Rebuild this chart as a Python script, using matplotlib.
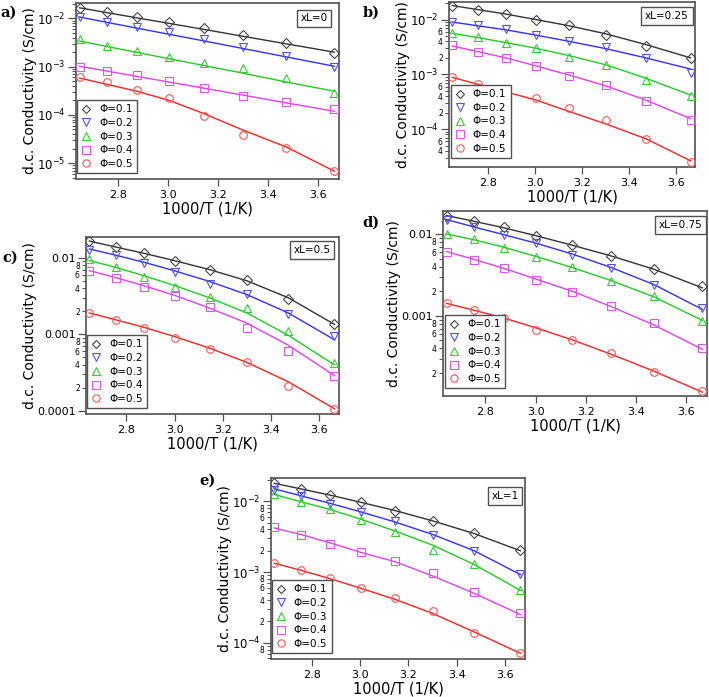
import matplotlib
matplotlib.use("Agg")
import matplotlib.pyplot as plt
from matplotlib.lines import Line2D
from matplotlib.ticker import FixedLocator, FixedFormatter
import numpy as np

plt.rcParams['font.family'] = ['DejaVu Sans']

# 1000/T values (1/K)
inv_T = [2.646, 2.755, 2.874, 3.003, 3.145, 3.300, 3.472, 3.663]
phi_labels = ["\u03a6=0.1", "\u03a6=0.2", "\u03a6=0.3", "\u03a6=0.4", "\u03a6=0.5"]
panel_tags = ["a)", "b)", "c)", "d)", "e)"]
xl_labels = ["xL=0", "xL=0.25", "xL=0.5", "xL=0.75", "xL=1"]

# measured conductivities (S/cm), rows: phi=0.1..0.5
pts_a = [
    [0.0165, 0.0134, 0.0107, 0.0084, 0.0063, 0.0046, 0.0031, 0.0019],
    [0.0106, 0.0085, 0.0068, 0.0052, 0.0038, 0.0026, 0.00168, 0.00100],
    [0.0037, 0.0027, 0.0021, 0.0016, 0.0012, 0.00095, 0.00058, 0.00028],
    [0.0010, 0.00082, 0.00066, 0.00050, 0.00036, 0.00025, 0.000185, 0.000135],
    [0.00062, 0.00048, 0.00033, 0.000224, 0.000095, 0.000038, 0.0000204, 0.0000069],
]
fit_a = [
    [0.0166, 0.0132, 0.0103, 0.0079, 0.0059, 0.00425, 0.00297, 0.0020],
    [0.0107, 0.0083, 0.0063, 0.0047, 0.0034, 0.00237, 0.00159, 0.00102],
    [0.00339, 0.00262, 0.00198, 0.00146, 0.00105, 0.00073, 0.00048, 0.00031],
    [0.00102, 0.00081, 0.00063, 0.00048, 0.000356, 0.000256, 0.000177, 0.000119],
    [0.00058, 0.00043, 0.00031, 0.00020, 0.000105, 0.000048, 0.0000215, 0.0000068],
]
pts_b = [
    [0.018, 0.0150, 0.0127, 0.0100, 0.0078, 0.0053, 0.0033, 0.00196],
    [0.0089, 0.0078, 0.0066, 0.0053, 0.0041, 0.0031, 0.00196, 0.00106],
    [0.0057, 0.0048, 0.0038, 0.0030, 0.0021, 0.0015, 0.00080, 0.00041],
    [0.0035, 0.0026, 0.00196, 0.0014, 0.00092, 0.00064, 0.00032, 0.00015],
    [0.00088, 0.00068, 0.00049, 0.00037, 0.000245, 0.000146, 0.000065, 0.0000252],
]
fit_b = [
    [0.018, 0.0152, 0.0126, 0.0100, 0.0077, 0.0055, 0.0035, 0.0020],
    [0.0090, 0.0077, 0.0065, 0.0052, 0.0040, 0.00295, 0.0020, 0.00125],
    [0.0056, 0.0047, 0.0038, 0.0030, 0.0022, 0.0015, 0.00085, 0.00042],
    [0.0033, 0.0026, 0.0020, 0.00143, 0.00097, 0.00062, 0.00034, 0.000155],
    [0.00088, 0.00066, 0.00048, 0.00034, 0.00021, 0.000125, 0.000067, 0.0000265],
]
pts_c = [
    [0.0163, 0.0138, 0.0115, 0.0091, 0.0070, 0.0051, 0.0029, 0.00138],
    [0.0128, 0.0107, 0.0085, 0.0065, 0.0046, 0.0034, 0.00187, 0.00095],
    [0.0095, 0.0076, 0.0056, 0.0042, 0.0031, 0.00218, 0.00112, 0.00042],
    [0.0067, 0.0054, 0.0042, 0.0032, 0.00229, 0.00122, 0.00061, 0.00029],
    [0.0019, 0.00153, 0.0012, 0.0009, 0.00064, 0.00043, 0.000213, 0.000106],
]
fit_c = [
    [0.0165, 0.0138, 0.0114, 0.0091, 0.0070, 0.0050, 0.0030, 0.00135],
    [0.0130, 0.0108, 0.0087, 0.0067, 0.0049, 0.0033, 0.0019, 0.00085],
    [0.0092, 0.0075, 0.0058, 0.0043, 0.0030, 0.0019, 0.00097, 0.00040],
    [0.0068, 0.0055, 0.0043, 0.0032, 0.0022, 0.0014, 0.00072, 0.00029],
    [0.0019, 0.00155, 0.00123, 0.00093, 0.00066, 0.00043, 0.00024, 0.000107],
]
pts_d = [
    [0.0166, 0.0144, 0.0120, 0.0095, 0.0073, 0.0054, 0.0037, 0.0023],
    [0.0148, 0.0120, 0.0097, 0.0077, 0.0056, 0.0038, 0.0024, 0.00123],
    [0.0100, 0.0086, 0.0068, 0.0053, 0.0039, 0.00266, 0.00176, 0.00087],
    [0.0061, 0.0048, 0.0038, 0.00274, 0.00197, 0.0013, 0.00081, 0.0004],
    [0.00142, 0.00117, 0.00093, 0.00067, 0.0005, 0.00035, 0.000206, 0.00012],
]
fit_d = [
    [0.0168, 0.0143, 0.0119, 0.0095, 0.0073, 0.0054, 0.0037, 0.0022],
    [0.0150, 0.0122, 0.0098, 0.0077, 0.0057, 0.0039, 0.0024, 0.00120],
    [0.0100, 0.0085, 0.0069, 0.0053, 0.0039, 0.0027, 0.0017, 0.00088],
    [0.0061, 0.0049, 0.0038, 0.0028, 0.0020, 0.0013, 0.00077, 0.00039],
    [0.00142, 0.00117, 0.00094, 0.00071, 0.00051, 0.00034, 0.00021, 0.000117],
]
pts_e = [
    [0.0182, 0.0151, 0.0124, 0.0098, 0.0074, 0.0053, 0.00356, 0.00206],
    [0.0146, 0.0118, 0.0093, 0.0071, 0.0052, 0.00337, 0.0020, 0.00094],
    [0.0127, 0.0097, 0.0078, 0.0055, 0.00363, 0.00206, 0.00129, 0.00055],
    [0.00433, 0.00337, 0.0025, 0.0019, 0.00141, 0.00096, 0.00052, 0.00026],
    [0.00133, 0.00107, 0.00082, 0.0006, 0.00043, 0.00028, 0.000139, 0.0000706],
]
fit_e = [
    [0.0180, 0.0150, 0.0123, 0.0097, 0.0074, 0.0053, 0.0035, 0.0020],
    [0.0150, 0.0120, 0.0094, 0.0071, 0.0051, 0.0034, 0.0020, 0.00092],
    [0.0125, 0.0099, 0.0077, 0.0056, 0.0038, 0.0024, 0.00128, 0.00055],
    [0.0042, 0.0034, 0.0026, 0.0019, 0.0014, 0.00088, 0.00050, 0.00025],
    [0.00133, 0.00106, 0.00081, 0.00059, 0.00041, 0.00026, 0.000142, 0.0000710],
]

markers = ['D', 'v', '^', 's', 'o']
msizes = [4.6, 6.0, 6.0, 5.5, 5.5]
mcolors = ['#454545', '#5050ee', '#33cc33', '#dd55ee', '#ff5555']
lcolors = ['#333333', '#3030ff', '#22cc22', '#e040f0', '#ff2020']

fig = plt.figure(figsize=(7.09, 6.97), dpi=100)

# axes rectangles in figure fraction
rects = [
    [0.1072, 0.7432, 0.3709, 0.2525],
    [0.6333, 0.7604, 0.3470, 0.2367],
    [0.1213, 0.4060, 0.3568, 0.2539],
    [0.6248, 0.4318, 0.3724, 0.2654],
    [0.3822, 0.0545, 0.3583, 0.2597],
]
ylims = [(10**-5.33, 10**-1.68), (10**-4.69, 10**-1.68), (10**-4.04, 10**-1.73),
         (10**-3.98, 10**-1.72), (10**-4.23, 10**-1.67)]
major_style = ['sci', 'sci', 'dec', 'dec', 'sci']
minor_labels = [[], [2, 4, 6], [2, 4, 6, 8], [2, 4, 6, 8], [2, 4, 6, 8]]
legend_boxes = [(0.004, 0.034), (0.008, 0.055), (0.004, 0.034), (0.008, 0.043), (0.004, 0.033)]
xl_pos = [(0.905, 0.912), (0.886, 0.915), (0.893, 0.927), (0.898, 0.924), (0.921, 0.90)]
tag_pos = [(0.001, 0.982), (0.511, 0.982), (0.003, 0.630), (0.511, 0.680), (0.281, 0.311)]

all_pts = [pts_a, pts_b, pts_c, pts_d, pts_e]
all_fit = [fit_a, fit_b, fit_c, fit_d, fit_e]
frame_col = '#505050'

for k in range(5):
    ax = fig.add_axes(rects[k])
    for i in range(5):
        ax.plot(inv_T, all_fit[k][i], '-', color=lcolors[i], lw=1.0, zorder=2)
        ax.plot(inv_T, all_pts[k][i], linestyle='none', marker=markers[i], ms=msizes[i],
                mfc='none', mec=mcolors[i], mew=0.8, zorder=3)
    ax.set_yscale('log')
    ax.set_xlim(2.632, 3.682)
    ax.set_ylim(*ylims[k])
    ax.set_xticks([2.8, 3.0, 3.2, 3.4, 3.6])
    ax.set_xticklabels(['2.8', '3.0', '3.2', '3.4', '3.6'])
    lo, hi = np.log10(ylims[k][0]), np.log10(ylims[k][1])
    decs = [d for d in range(-6, 0) if lo <= d <= hi]
    ax.yaxis.set_major_locator(FixedLocator([10.0**d for d in decs]))
    if major_style[k] == 'sci':
        ax.yaxis.set_major_formatter(FixedFormatter(['$10^{%d}$' % d for d in decs]))
    else:
        ax.yaxis.set_major_formatter(FixedFormatter(['%g' % (10.0**d) for d in decs]))
    minors = []
    mlabels = []
    top_dec = max(decs)
    for d in range(-6, 0):
        for m in range(2, 10):
            v = m * 10.0**d
            if ylims[k][0] <= v <= ylims[k][1]:
                minors.append(v)
                ok = (m in minor_labels[k]) and v < 10.0**top_dec and np.log10(v) - lo > 0.05
                mlabels.append(str(m) if ok else '')
    ax.yaxis.set_minor_locator(FixedLocator(minors))
    ax.yaxis.set_minor_formatter(FixedFormatter(mlabels))
    ax.tick_params(axis='y', which='major', direction='out', length=6, width=0.9,
                   labelsize=8.5 if major_style[k] == 'sci' else 8, colors=frame_col,
                   labelcolor='black', pad=1.5)
    ax.tick_params(axis='y', which='minor', direction='out', length=3, width=0.7,
                   labelsize=5.5, colors=frame_col, labelcolor='black', pad=1.5)
    ax.tick_params(axis='x', which='major', direction='out', length=5, width=0.9,
                   labelsize=8, colors=frame_col, labelcolor='black', pad=3)
    ax.tick_params(axis='x', which='minor', bottom=False)
    for s in ax.spines.values():
        s.set_color(frame_col)
        s.set_linewidth(1.2)
    ax.set_xlabel('1000/T (1/K)', fontsize=10.5, labelpad=1)
    ax.set_ylabel('d.c. Conductivity (S/cm)', fontsize=10, labelpad=0)

    handles = [Line2D([], [], linestyle='none', marker=markers[i], ms=msizes[i] * 0.95,
                      mfc='none', mec=mcolors[i], mew=0.8) for i in range(5)]
    leg = ax.legend(handles, phi_labels, loc='lower left', bbox_to_anchor=legend_boxes[k],
                    fontsize=7.5, frameon=True, fancybox=False, framealpha=1,
                    edgecolor=frame_col, handlelength=1.0, handletextpad=0.7,
                    labelspacing=0.35, borderpad=0.4, borderaxespad=0.0)
    leg.get_frame().set_linewidth(1.0)
    ax.text(xl_pos[k][0], xl_pos[k][1], xl_labels[k], transform=ax.transAxes,
            ha='center', va='center', fontsize=7.5,
            bbox=dict(boxstyle='square,pad=0.35', fc='white', ec=frame_col, lw=1.0))
    fig.text(tag_pos[k][0], tag_pos[k][1], panel_tags[k], fontsize=10.5, fontweight='bold',
             family='DejaVu Serif', ha='left', va='center')

fig.savefig('out.png', dpi=100)
